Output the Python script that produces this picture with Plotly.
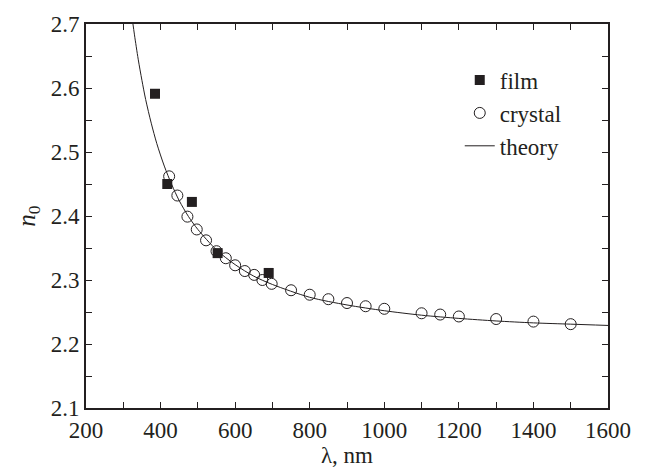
import plotly.graph_objects as go

# Film data (squares)
film_wl = [385, 418, 484, 553, 690]
film_n = [2.591, 2.450, 2.422, 2.342, 2.311]

# Crystal data (open circles)
crystal_wl = [423, 445, 472, 497, 522, 550, 575, 600, 626, 651, 673, 698,
              750, 800, 850, 900, 950, 1000, 1100, 1150, 1200, 1300, 1400, 1500]
crystal_n = [2.462, 2.432, 2.399, 2.379, 2.362, 2.345, 2.334, 2.323, 2.314, 2.308,
             2.300, 2.294, 2.284, 2.277, 2.270, 2.264, 2.259, 2.255, 2.248, 2.246,
             2.243, 2.239, 2.235, 2.231]

# Theory curve
theory_wl = [325, 330, 340, 350, 360, 375, 390, 410, 430, 450, 475, 500, 550,
             600, 650, 700, 800, 900, 1000, 1100, 1200, 1300, 1400, 1500, 1600]
theory_n = [2.704, 2.683, 2.645, 2.612, 2.582, 2.545, 2.513, 2.478, 2.449, 2.424,
            2.399, 2.379, 2.347, 2.324, 2.306, 2.293, 2.273, 2.261, 2.252, 2.245,
            2.240, 2.236, 2.233, 2.231, 2.229]

# Tick positions (labels only on the major ones)
x_tickvals = [200, 300, 400, 500, 600, 700, 800, 900, 1000, 1100, 1200, 1300, 1400, 1500, 1600]
x_ticktext = ["200", "", "400", "", "600", "", "800", "", "1000", "", "1200", "", "1400", "", "1600"]
y_tickvals = [2.1, 2.15, 2.2, 2.25, 2.3, 2.35, 2.4, 2.45, 2.5, 2.55, 2.6, 2.65, 2.7]
y_ticktext = ["2.1", "", "2.2", "", "2.3", "", "2.4", "", "2.5", "", "2.6", "", "2.7"]

INK = "#231f20"
FONT = "Liberation Serif"

fig = go.Figure()
fig.add_trace(go.Scatter(
    x=film_wl, y=film_n, mode="markers", name="film",
    marker=dict(symbol="square", size=10, color=INK, line=dict(width=0)),
))
fig.add_trace(go.Scatter(
    x=crystal_wl, y=crystal_n, mode="markers", name="crystal",
    marker=dict(symbol="circle-open", size=11, color=INK, line=dict(width=1, color=INK)),
))
fig.add_trace(go.Scatter(
    x=theory_wl, y=theory_n, mode="lines", name="theory",
    line=dict(color=INK, width=1, shape="spline", smoothing=0.8),
))

fig.update_layout(
    width=650, height=474,
    margin=dict(l=86, r=42, t=22, b=66),
    paper_bgcolor="white", plot_bgcolor="white",
    font=dict(family=FONT, size=23, color=INK),
    showlegend=True,
    legend=dict(
        x=0.716, y=0.91, xanchor="left", yanchor="top",
        bgcolor="rgba(0,0,0,0)", borderwidth=0,
        font=dict(family=FONT, size=23, color=INK),
        tracegroupgap=0, itemwidth=30,
    ),
)
fig.update_xaxes(
    range=[200, 1600], tickvals=x_tickvals, ticktext=x_ticktext,
    showgrid=False, zeroline=False,
    showline=True, linecolor=INK, linewidth=2, mirror="ticks",
    ticks="inside", ticklen=6, tickwidth=1.3, tickcolor=INK,
    tickfont=dict(family=FONT, size=23, color=INK),
    title=dict(text="&#955;, nm", font=dict(family=FONT, size=23, color=INK), standoff=2),
)
fig.update_yaxes(
    range=[2.1, 2.7], tickvals=y_tickvals, ticktext=y_ticktext,
    showgrid=False, zeroline=False,
    showline=True, linecolor=INK, linewidth=2, mirror="ticks",
    ticks="inside", ticklen=6, tickwidth=1.3, tickcolor=INK,
    tickfont=dict(family=FONT, size=23, color=INK),
    title=dict(text="<i>n</i><sub>0</sub>", font=dict(family=FONT, size=25, color=INK), standoff=8),
)

fig.write_html("out.html")
